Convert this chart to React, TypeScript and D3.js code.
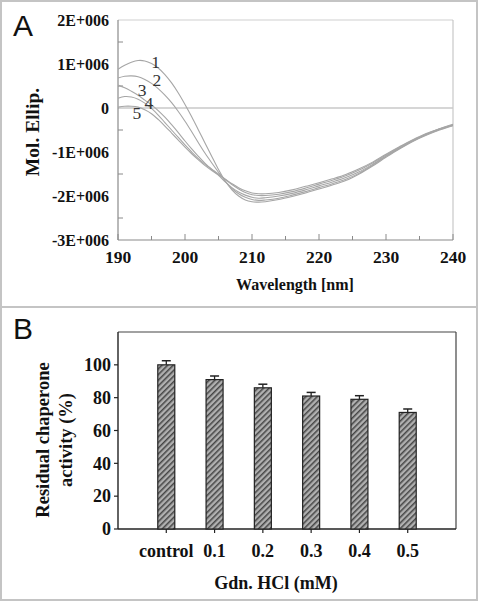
import React from "react";
import * as d3 from "d3";

// ---------- Panel A data (CD spectra) ----------
const wavelengths = [
  190, 191, 192, 193, 194, 195, 196, 197, 198, 199, 200, 201, 202, 203, 204, 205,
  206, 207, 208, 209, 210, 211, 212, 214, 216, 218, 220, 222, 224, 226, 228, 230,
  232, 234, 236, 238, 240,
];
// values in units of 1E+006
const curve1 = [
  0.88, 0.97, 1.04, 1.08, 1.07, 1.01, 0.91, 0.76, 0.57, 0.34, 0.08, -0.2, -0.5, -0.8, -1.1, -1.4,
  -1.66, -1.86, -2.0, -2.09, -2.13, -2.14, -2.13, -2.08, -2.01, -1.93, -1.84, -1.75, -1.65, -1.5, -1.32, -1.12,
  -0.93, -0.76, -0.62, -0.5, -0.4,
];
const curve2 = [
  0.68, 0.72, 0.73, 0.71, 0.65, 0.56, 0.44, 0.29, 0.12, -0.08, -0.3, -0.54, -0.79, -1.03, -1.25, -1.46,
  -1.66, -1.83, -1.95, -2.03, -2.08, -2.1, -2.09, -2.05, -1.98, -1.9, -1.81, -1.72, -1.62, -1.48, -1.3, -1.1,
  -0.92, -0.75, -0.61, -0.49, -0.39,
];
const curve3 = [
  0.52, 0.46, 0.38, 0.29, 0.18, 0.07, -0.06, -0.21, -0.38, -0.56, -0.75, -0.93, -1.1, -1.26, -1.4, -1.53,
  -1.68, -1.81, -1.91, -1.98, -2.03, -2.05, -2.04, -2.0, -1.94, -1.86, -1.77, -1.68, -1.58, -1.45, -1.28, -1.09,
  -0.91, -0.74, -0.6, -0.48, -0.39,
];
const curve4 = [
  0.22, 0.26, 0.25, 0.2, 0.11, -0.01, -0.16, -0.33, -0.5, -0.67, -0.84, -1.0, -1.15, -1.28, -1.39, -1.5,
  -1.62, -1.74, -1.84, -1.92, -1.97, -1.99, -1.99, -1.96, -1.9, -1.82, -1.73, -1.64, -1.54, -1.41, -1.25, -1.07,
  -0.89, -0.73, -0.59, -0.47, -0.38,
];
const curve5 = [
  0.02, 0.04, 0.04, 0.02, -0.04, -0.13, -0.26, -0.41, -0.57, -0.73, -0.89, -1.04, -1.18, -1.31, -1.42, -1.52,
  -1.62, -1.72, -1.81, -1.88, -1.93, -1.95, -1.95, -1.92, -1.86, -1.78, -1.7, -1.61, -1.51, -1.38, -1.23, -1.05,
  -0.88, -0.72, -0.58, -0.47, -0.37,
];
const curveLabels = ["1", "2", "3", "4", "5"];
// label anchor positions in data units (wavelength, value/1E6)
const labelWl = [195.6, 195.8, 193.6, 194.6, 192.8];
const labelVal = [1.05, 0.64, 0.41, 0.11, -0.12];

const yTicksA = [2, 1, 0, -1, -2, -3];
const yTickLabelsA = ["2E+006", "1E+006", "0", "-1E+006", "-2E+006", "-3E+006"];
const yMinorA = [1.5, 0.5, -0.5, -1.5, -2.5];
const xTicksA = [190, 200, 210, 220, 230, 240];
const xMinorA = [195, 205, 215, 225, 235];

// ---------- Panel B data ----------
const categories = ["control", "0.1", "0.2", "0.3", "0.4", "0.5"];
const activity = [100, 91, 86, 81, 79, 71];
const errors = [2.5, 2.2, 2.2, 2.2, 2.2, 2.1];
const yTicksB = [0, 20, 40, 60, 80, 100];

const serif = "'Liberation Serif', 'Times New Roman', serif";
const sans = "'Liberation Sans', Arial, sans-serif";

export default function App() {
  // Panel A scales
  const xA = d3.scaleLinear().domain([190, 240]).range([118, 453]);
  const yA = d3.scaleLinear().domain([-3, 2]).range([240, 20]);
  const line = d3
    .line<number>()
    .x((_, i) => xA(wavelengths[i]))
    .y((d) => yA(d))
    .curve(d3.curveCatmullRom.alpha(0.5));
  const curves = [curve1, curve2, curve3, curve4, curve5];

  // Panel B scales
  const xB = d3.scalePoint<string>().domain(categories).range([118, 456]).padding(1);
  const yB = d3.scaleLinear().domain([0, 120]).range([529, 332]);
  const barW = 17;

  return (
    <svg
      width={478}
      height={601}
      style={{ position: "absolute", left: 0, top: 0, background: "#fff" }}
    >
      <defs>
        <pattern
          id="hatch"
          width={4}
          height={4}
          patternUnits="userSpaceOnUse"
          patternTransform="rotate(45)"
        >
          <rect width={4} height={4} fill="#b0b0b0" />
          <line x1={0.8} y1={0} x2={0.8} y2={4} stroke="#333" strokeWidth={1.3} />
        </pattern>
      </defs>

      {/* Outer frame and divider */}
      <rect x={1} y={1} width={476} height={599} fill="none" stroke="#c4c4c4" strokeWidth={2} />
      <line x1={1} x2={477} y1={307} y2={307} stroke="#c4c4c4" strokeWidth={2} />

      {/* ---------------- Panel A ---------------- */}
      <text x={13} y={36} fontFamily={sans} fontSize={30} fill="#111">
        A
      </text>
      {/* frame */}
      <line x1={118} x2={453} y1={20} y2={20} stroke="#cfcfcf" strokeWidth={1} />
      <line x1={453} x2={453} y1={20} y2={240} stroke="#bdbdbd" strokeWidth={1} />
      {/* zero line */}
      <line x1={118} x2={453} y1={yA(0)} y2={yA(0)} stroke="#c8c8c8" strokeWidth={1.6} />
      {/* axes */}
      <line x1={118} x2={118} y1={20} y2={240} stroke="#8a8a8a" strokeWidth={1.2} />
      <line x1={118} x2={453} y1={240} y2={240} stroke="#8a8a8a" strokeWidth={1.2} />
      {yMinorA.map((v) => (
        <line key={"ym" + v} x1={118} x2={123} y1={yA(v)} y2={yA(v)} stroke="#8a8a8a" strokeWidth={1} />
      ))}
      {xTicksA.map((v) => (
        <line key={"xt" + v} x1={xA(v)} x2={xA(v)} y1={240} y2={234} stroke="#8a8a8a" strokeWidth={1} />
      ))}
      {xMinorA.map((v) => (
        <line key={"xm" + v} x1={xA(v)} x2={xA(v)} y1={240} y2={236} stroke="#8a8a8a" strokeWidth={1} />
      ))}
      {yTicksA.map((v, i) => (
        <text
          key={"yl" + v}
          x={109}
          y={yA(v)}
          dy="0.35em"
          textAnchor="end"
          fontFamily={serif}
          fontWeight="bold"
          fontSize={16}
          fill="#111"
        >
          {yTickLabelsA[i]}
        </text>
      ))}
      {xTicksA.map((v) => (
        <text
          key={"xl" + v}
          x={xA(v)}
          y={263}
          textAnchor="middle"
          fontFamily={serif}
          fontWeight="bold"
          fontSize={17.5}
          fill="#111"
        >
          {v}
        </text>
      ))}
      <text
        x={295}
        y={290}
        textAnchor="middle"
        fontFamily={serif}
        fontWeight="bold"
        fontSize={16}
        fill="#111"
      >
        Wavelength [nm]
      </text>
      <text
        transform="translate(39,132) rotate(-90)"
        textAnchor="middle"
        fontFamily={serif}
        fontWeight="bold"
        fontSize={19.5}
        fill="#111"
      >
        Mol. Ellip.
      </text>
      {/* curves */}
      {curves.map((c, i) => (
        <path key={"c" + i} d={line(c) || ""} fill="none" stroke="#a6a6a6" strokeWidth={1.1} />
      ))}
      {curveLabels.map((l, i) => (
        <text
          key={"cl" + l}
          x={xA(labelWl[i])}
          y={yA(labelVal[i])}
          dy="0.35em"
          textAnchor="middle"
          fontFamily={serif}
          fontSize={17.5}
          fill="#333"
        >
          {l}
        </text>
      ))}

      {/* ---------------- Panel B ---------------- */}
      <text x={13} y={339} fontFamily={sans} fontSize={30} fill="#111">
        B
      </text>
      {/* frame */}
      <line x1={118} x2={456} y1={332} y2={332} stroke="#444" strokeWidth={1.2} />
      <line x1={456} x2={456} y1={332} y2={529} stroke="#444" strokeWidth={1.2} />
      <line x1={118} x2={118} y1={332} y2={529} stroke="#222" strokeWidth={1.4} />
      <line x1={118} x2={456} y1={529} y2={529} stroke="#222" strokeWidth={1.4} />
      {yTicksB.map((v) => (
        <g key={"yb" + v}>
          <line x1={114} x2={118} y1={yB(v)} y2={yB(v)} stroke="#222" strokeWidth={1.2} />
          <text
            x={111}
            y={yB(v)}
            dy="0.35em"
            textAnchor="end"
            fontFamily={serif}
            fontWeight="bold"
            fontSize={18}
            fill="#111"
          >
            {v}
          </text>
        </g>
      ))}
      {categories.map((c, i) => {
        const cx = xB(c) as number;
        const top = yB(activity[i]);
        const errTop = yB(activity[i] + errors[i]);
        return (
          <g key={"bar" + c}>
            <rect
              x={cx - barW / 2}
              y={top}
              width={barW}
              height={529 - top}
              fill="url(#hatch)"
              stroke="#222"
              strokeWidth={1.2}
            />
            <line x1={cx} x2={cx} y1={top} y2={errTop} stroke="#222" strokeWidth={1.3} />
            <line x1={cx - 4.5} x2={cx + 4.5} y1={errTop} y2={errTop} stroke="#222" strokeWidth={1.5} />
            <line x1={cx} x2={cx} y1={529} y2={533} stroke="#222" strokeWidth={1.2} />
            <text
              x={cx}
              y={557}
              textAnchor="middle"
              fontFamily={serif}
              fontWeight="bold"
              fontSize={18}
              fill="#111"
            >
              {c}
            </text>
          </g>
        );
      })}
      <text
        x={276}
        y={589}
        textAnchor="middle"
        fontFamily={serif}
        fontWeight="bold"
        fontSize={18}
        fill="#111"
      >
        Gdn. HCl (mM)
      </text>
      <text
        transform="translate(49,440) rotate(-90)"
        textAnchor="middle"
        fontFamily={serif}
        fontWeight="bold"
        fontSize={18.5}
        fill="#111"
      >
        Residual chaperone
      </text>
      <text
        transform="translate(72,440) rotate(-90)"
        textAnchor="middle"
        fontFamily={serif}
        fontWeight="bold"
        fontSize={18.5}
        fill="#111"
      >
        activity (%)
      </text>
    </svg>
  );
}
